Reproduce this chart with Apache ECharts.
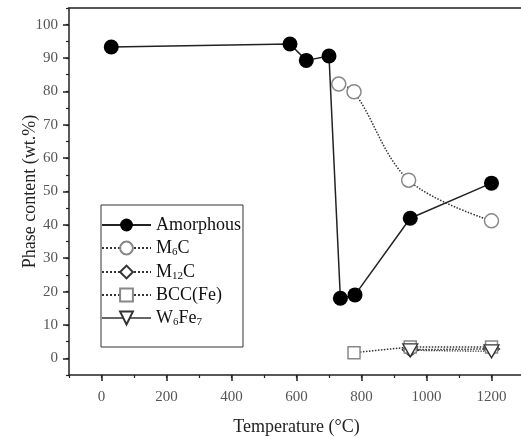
<!DOCTYPE html>
<html>
<head>
<meta charset="utf-8">
<script src="https://cdn.jsdelivr.net/npm/echarts@6/dist/echarts.min.js"></script>
<style>
	html, body { margin: 0; padding: 0; background: #fff; }
	#main { width: 521px; height: 437px; }
</style>
</head>
<body>
<div id="main"></div>
<script>
// 数据
var tempAmorphous = [30, 580, 630, 700, 735, 780, 950, 1200];
var valAmorphous = [93.3, 94.2, 89.3, 90.6, 18, 19, 42, 52.5];
var tempM6C = [730, 777, 945, 1200];
var valM6C = [82.2, 79.9, 53.4, 41.2];
var tempM12C = [950, 1200];
var valM12C = [2.6, 2.8];
var tempBCC = [777, 950, 1200];
var valBCC = [1.7, 3.4, 3.4];
var tempW6Fe7 = [950, 1200];
var valW6Fe7 = [2.4, 2.1];
var xTicks = [0, 200, 400, 600, 800, 1000, 1200];
var yTicks = [0, 10, 20, 30, 40, 50, 60, 70, 80, 90, 100];

function pairs(xs, ys) {
	var out = [];
	for (var i = 0; i < xs.length; i++) {
		out.push([xs[i], ys[i]]);
	}
	return out;
}

var serif = 'Liberation Serif';
var grey = '#888';
var richNames = {
	'Amorphous': '{n|Amorphous}',
	'M6C': '{n|M}{s|6}{n|C}',
	'M12C': '{n|M}{s|12}{n|C}',
	'BCC(Fe)': '{n|BCC(Fe)}',
	'W6Fe7': '{n|W}{s|6}{n|Fe}{s|7}'
};

var chart = echarts.init(document.getElementById('main'));
var option = {
	animation: false,
	backgroundColor: '#fff',
	grid: {
		// 右边框在画面外
		left: 69, top: 8, right: -3, bottom: 62,
		outerBoundsMode: 'none'
	},
	legend: {
		orient: 'vertical',
		left: 101, top: 205,
		width: 142,
		padding: [11, 2, 19, 0],
		itemGap: 4,
		itemWidth: 49,
		itemHeight: 16,
		borderColor: '#333',
		borderWidth: 1,
		backgroundColor: '#fff',
		formatter: function (name) { return richNames[name]; },
		textStyle: {
			rich: {
				n: { fontFamily: serif, fontSize: 18, color: '#111', lineHeight: 17 },
				s: { fontFamily: serif, fontSize: 11, color: '#111', lineHeight: 17, padding: [9, 0, 0, 0] }
			}
		},
		data: ['Amorphous', 'M6C', 'M12C', 'BCC(Fe)', {
			name: 'W6Fe7',
			lineStyle: { type: 'solid', color: '#333', width: 1.3 }
		}]
	},
	xAxis: [{
		type: 'value', min: -100, max: 1300,
		name: 'Temperature (°C)', nameLocation: 'middle', nameGap: 43, nameMoveOverlap: false,
		nameTextStyle: { fontFamily: serif, fontSize: 18, color: '#222' },
		axisLine: { onZero: false, lineStyle: { color: '#222', width: 1.5 } },
		axisTick: { customValues: xTicks, length: 6, inside: false, lineStyle: { color: '#222', width: 1.5 } },
		axisLabel: {
			customValues: xTicks, fontFamily: serif, fontSize: 15, color: '#555', margin: 15,
			formatter: function (v) { return String(v); }
		},
		splitLine: { show: false }
	}, {
		type: 'value', min: -100, max: 1300, interval: 100, position: 'bottom',
		axisLine: { show: false, onZero: false },
		axisTick: { length: 3, lineStyle: { color: '#222', width: 1.2 } },
		axisLabel: { show: false },
		splitLine: { show: false }
	}, {
		// 顶部边线
		type: 'value', min: -100, max: 1300, position: 'top',
		axisLine: { show: true, onZero: false, lineStyle: { color: '#222', width: 1.5 } },
		axisTick: { show: false },
		axisLabel: { show: false },
		splitLine: { show: false }
	}],
	yAxis: [{
		type: 'value', min: -5, max: 105,
		name: 'Phase content (wt.%)', nameLocation: 'middle', nameGap: 30, nameMoveOverlap: false,
		nameTextStyle: { fontFamily: serif, fontSize: 18, color: '#222' },
		axisLine: { show: true, onZero: false, lineStyle: { color: '#222', width: 1.5 } },
		axisTick: { show: true, customValues: yTicks, length: 6, lineStyle: { color: '#222', width: 1.5 } },
		axisLabel: { customValues: yTicks, fontFamily: serif, fontSize: 15, color: '#555', margin: 11 },
		splitLine: { show: false }
	}, {
		type: 'value', min: -5, max: 105, interval: 5, position: 'left',
		axisLine: { show: false, onZero: false },
		axisTick: { show: true, length: 3, lineStyle: { color: '#222', width: 1.2 } },
		axisLabel: { show: false },
		splitLine: { show: false }
	}],
	series: [{
		name: 'Amorphous', type: 'line',
		data: pairs(tempAmorphous, valAmorphous),
		symbol: 'circle', symbolSize: 15,
		itemStyle: { color: '#000' },
		lineStyle: { color: '#222', width: 1.5 },
		z: 5
	}, {
		name: 'M6C', type: 'line', smooth: 0.35,
		data: pairs(tempM6C, valM6C),
		symbol: 'circle', symbolSize: 14,
		itemStyle: { color: '#fff', borderColor: grey, borderWidth: 1.5 },
		lineStyle: { color: '#333', width: 1.5, type: 'dotted' }
	}, {
		name: 'M12C', type: 'line',
		data: pairs(tempM12C, valM12C),
		symbol: 'diamond', symbolSize: [16, 14],
		itemStyle: { color: '#fff', borderColor: '#333', borderWidth: 1.3 },
		lineStyle: { color: '#333', width: 1.5, type: 'dotted' }
	}, {
		name: 'BCC(Fe)', type: 'line',
		data: pairs(tempBCC, valBCC),
		symbol: 'rect', symbolSize: 12,
		itemStyle: { color: '#fff', borderColor: grey, borderWidth: 1.5 },
		lineStyle: { color: '#333', width: 1.5, type: 'dotted' }
	}, {
		name: 'W6Fe7', type: 'line',
		data: pairs(tempW6Fe7, valW6Fe7),
		symbol: 'path://M0,0 L10,0 L5,9 Z', symbolSize: [15, 13],
		itemStyle: { color: '#fff', borderColor: '#333', borderWidth: 1.3 },
		lineStyle: { color: '#333', width: 1.3, type: 'dotted' }
	}]
};
chart.setOption(option);
</script>
</body>
</html>
